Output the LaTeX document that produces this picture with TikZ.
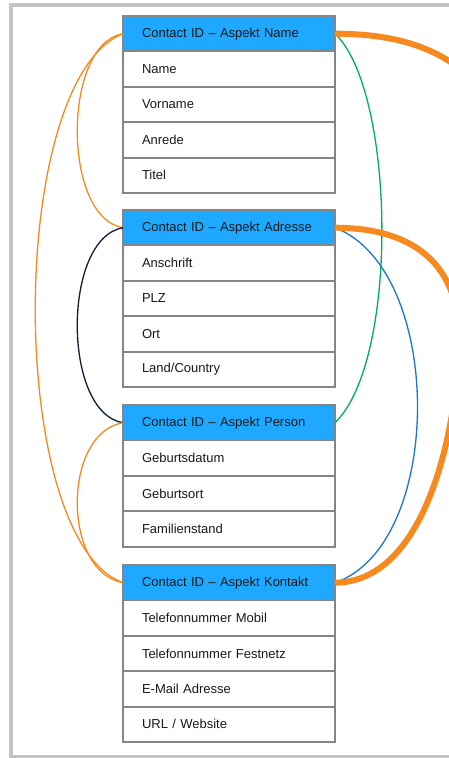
\documentclass[tikz,border=0pt]{standalone}
\usepackage{fontspec}
\setmainfont{Liberation Sans}
\definecolor{hdr}{HTML}{1FA8FF}
\definecolor{bord}{HTML}{858585}
\definecolor{frm}{HTML}{C4C4C4}
\definecolor{org}{HTML}{F68A1E}
\definecolor{grn}{HTML}{00B050}
\definecolor{blu}{HTML}{1C75CF}
\definecolor{nav}{HTML}{0E1C3A}
\begin{document}
\begin{tikzpicture}[x=1pt,y=-1pt,
 cell/.style={draw=bord, line width=1.9pt, rectangle, anchor=north west, text width=174pt, inner xsep=19pt, inner ysep=0pt, minimum height=35.4pt, outer sep=0pt, align=left, font=\fontsize{13}{15}\selectfont, text=black!90},
 hcell/.style={cell, fill=hdr},
 thinline/.style={line width=1.3pt},
 thickline/.style={line width=6pt, draw=org}]
\useasboundingbox (0,0) rectangle (449,758);
\clip (0,0) rectangle (449,758);
\fill[white] (0,0) rectangle (449,758);
\draw[frm, line width=3.5pt] (11,5) rectangle (520,756.5);
% box 1
\node[hcell] (a0) at (123,16) {Contact ID – Aspekt Name};
\node[cell] (a1) at (a0.south west) {Name};
\node[cell] (a2) at (a1.south west) {Vorname};
\node[cell] (a3) at (a2.south west) {Anrede};
\node[cell] (a4) at (a3.south west) {Titel};
% box 2
\node[hcell] (b0) at (123,210) {Contact ID – Aspekt Adresse};
\node[cell] (b1) at (b0.south west) {Anschrift};
\node[cell] (b2) at (b1.south west) {PLZ};
\node[cell] (b3) at (b2.south west) {Ort};
\node[cell] (b4) at (b3.south west) {Land/Country};
% box 3
\node[hcell] (c0) at (123,405) {Contact ID – Aspekt Person};
\node[cell] (c1) at (c0.south west) {Geburtsdatum};
\node[cell] (c2) at (c1.south west) {Geburtsort};
\node[cell] (c3) at (c2.south west) {Familienstand};
% box 4
\node[hcell] (d0) at (123,565) {Contact ID – Aspekt Kontakt};
\node[cell] (d1) at (d0.south west) {Telefonnummer Mobil};
\node[cell] (d2) at (d1.south west) {Telefonnummer Festnetz};
\node[cell] (d3) at (d2.south west) {E-Mail Adresse};
\node[cell] (d4) at (d3.south west) {URL / Website};
% left connectors
\draw[org, thinline] (a0.west) .. controls (62,44) and (62,218) .. (b0.west);
\draw[org, thinline] (a0.west) .. controls (6,80) and (6,540) .. (d0.west);
\draw[nav, thinline] (b0.west) .. controls (62,238) and (62,413) .. (c0.west);
\draw[org, thinline] (c0.west) .. controls (62,433) and (62,572) .. (d0.west);
% right connectors
\draw[grn, thinline] (a0.east) .. controls (395,90) and (400,360) .. (c0.east);
\draw[blu, thinline] (b0.east) .. controls (445,270) and (445,545) .. (d0.east);
\draw[thickline] (b0.east) .. controls (422,228) and (459,272) .. (459,338) .. controls (459,410) and (432,582) .. (d0.east);
\coordinate (offR) at (520,150);
\draw[thickline] (a0.east) .. controls (420,34) and (480,60) .. (offR);
\end{tikzpicture}
\end{document}
